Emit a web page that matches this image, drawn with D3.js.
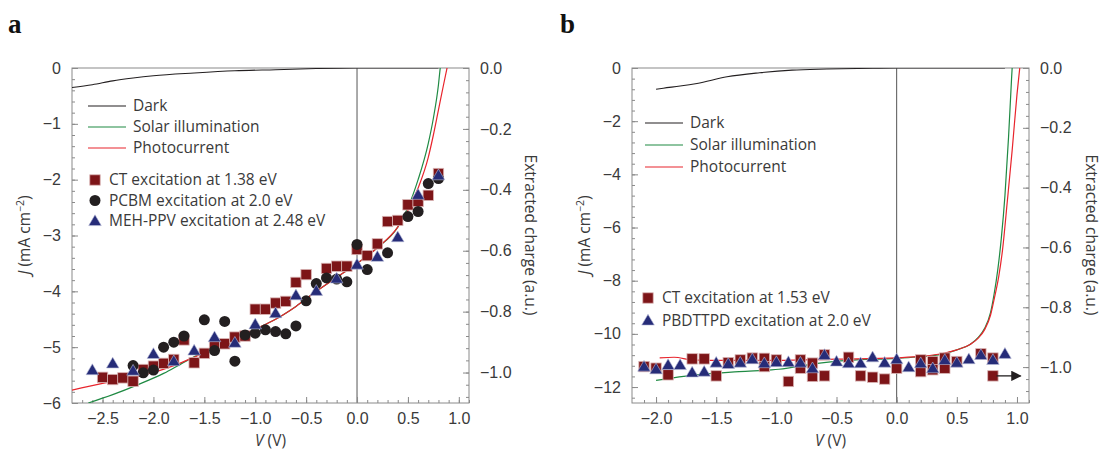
<!DOCTYPE html>
<html>
<head>
<meta charset="utf-8">
<script src="https://cdn.jsdelivr.net/npm/d3@7"></script>
<style>
  body { margin: 0; background: #fff; }
  svg { display: block; font-family: "Open Sans", "Noto Sans", sans-serif; }
  .tick text { fill: #3a3a3a; font-size: 16px; }
  .lbl { fill: #3a3a3a; font-size: 15.5px; }
</style>
</head>
<body>
<svg id="chart" width="1102" height="450"></svg>
<script>
// ---- panel a data ----
let a_dark = [[-2.8,-0.35],[-2.6,-0.3],[-2.4,-0.23],[-2.2,-0.18],[-2.0,-0.14],[-1.6,-0.09],[-1.2,-0.05],[-0.8,-0.03],[-0.4,-0.01],[0,0],[0.8,0]];
let a_solar = [[-2.64,-6.0],[-2.4,-5.85],[-2.15,-5.67],[-1.9,-5.47],[-1.72,-5.29],[-1.5,-5.08],[-1.2,-4.85],[-1.0,-4.68],[-0.8,-4.5],[-0.6,-4.27],[-0.4,-4.0],[-0.2,-3.75],[0,-3.5],[0.2,-3.22],[0.4,-2.85],[0.5,-2.5],[0.6,-2.0],[0.7,-1.35],[0.75,-0.9],[0.8,-0.3],[0.82,0.05]];
let a_photo = [[-2.8,-5.77],[-2.5,-5.65],[-2.2,-5.55],[-2.0,-5.45],[-1.8,-5.33],[-1.6,-5.18],[-1.4,-5.02],[-1.2,-4.85],[-1.0,-4.68],[-0.8,-4.5],[-0.6,-4.27],[-0.4,-4.0],[-0.2,-3.75],[0,-3.5],[0.2,-3.22],[0.4,-2.85],[0.5,-2.55],[0.6,-2.15],[0.7,-1.6],[0.75,-1.2],[0.8,-0.75],[0.85,-0.3],[0.89,0.05]];
let a_ct = [[-2.5,-5.54],[-2.4,-5.58],[-2.3,-5.55],[-2.2,-5.61],[-2.1,-5.4],[-2.0,-5.34],[-1.9,-5.29],[-1.8,-5.22],[-1.7,-4.87],[-1.6,-5.28],[-1.5,-5.11],[-1.4,-4.98],[-1.3,-4.94],[-1.2,-4.82],[-1.1,-4.8],[-1.0,-4.32],[-0.9,-4.32],[-0.8,-4.21],[-0.7,-4.18],[-0.6,-3.84],[-0.5,-3.7],[-0.3,-3.59],[-0.2,-3.55],[-0.1,-3.55],[0.0,-3.25],[0.1,-3.36],[0.2,-3.15],[0.3,-2.75],[0.4,-2.73],[0.5,-2.45],[0.6,-2.39],[0.7,-2.28],[0.8,-1.89]];
let a_pcbm = [[-2.2,-5.33],[-2.1,-5.46],[-2.0,-5.41],[-1.9,-5.0],[-1.8,-4.91],[-1.7,-4.8],[-1.5,-4.51],[-1.4,-5.06],[-1.3,-4.54],[-1.2,-5.25],[-1.1,-4.78],[-1.0,-4.75],[-0.9,-4.69],[-0.8,-4.72],[-0.7,-4.76],[-0.6,-4.62],[-0.5,-4.17],[-0.4,-3.86],[-0.3,-3.76],[-0.2,-3.78],[-0.1,-3.83],[0.0,-3.16],[0.1,-3.61],[0.3,-3.31],[0.5,-2.66],[0.6,-2.57],[0.7,-2.07],[0.8,-1.98]];
let a_meh = [[-2.6,-5.41],[-2.4,-5.29],[-2.2,-5.42],[-2.0,-5.12],[-1.8,-5.25],[-1.6,-5.06],[-1.4,-4.82],[-1.2,-4.92],[-1.0,-4.59],[-0.8,-4.39],[-0.6,-4.07],[-0.4,-3.99],[-0.2,-3.77],[0.0,-3.52],[0.2,-3.38],[0.4,-3.03],[0.6,-2.27],[0.8,-1.92]];

// ---- panel b data ----
let b_dark = [[-2.0,-0.8],[-1.94,-0.76],[-1.8,-0.68],[-1.66,-0.58],[-1.41,-0.33],[-1.14,-0.18],[-0.87,-0.08],[-0.58,-0.04],[-0.2,-0.01],[0,0],[0.9,0]];
let b_solar = [[-2.0,-11.75],[-1.67,-11.54],[-1.31,-11.42],[-0.98,-11.33],[-0.64,-11.1],[-0.4,-11.0],[0,-10.92],[0.2,-10.86],[0.4,-10.74],[0.5,-10.6],[0.61,-10.4],[0.68,-10.12],[0.73,-9.8],[0.78,-9.2],[0.81,-8.5],[0.84,-7.6],[0.87,-6.4],[0.9,-4.8],[0.93,-2.6],[0.955,-0.4],[0.965,0.4]];
let b_photo = [[-1.97,-10.9],[-1.85,-10.88],[-1.7,-10.98],[-1.5,-11.0],[-1.0,-11.0],[-0.5,-10.95],[0,-10.9],[0.2,-10.85],[0.4,-10.72],[0.5,-10.6],[0.61,-10.4],[0.68,-10.15],[0.73,-9.85],[0.78,-9.3],[0.81,-8.7],[0.85,-7.8],[0.88,-6.84],[0.92,-5.0],[0.96,-3.1],[1.0,-1.0],[1.03,0.3]];
let b_ct = [[-2.1,-11.23],[-2.0,-11.29],[-1.9,-11.54],[-1.7,-10.94],[-1.6,-10.94],[-1.5,-11.58],[-1.4,-11.08],[-1.3,-10.98],[-1.2,-10.91],[-1.1,-10.92],[-1.1,-11.23],[-1.0,-10.98],[-0.9,-11.79],[-0.8,-10.98],[-0.8,-11.29],[-0.7,-11.1],[-0.7,-11.6],[-0.6,-10.79],[-0.6,-11.58],[-0.4,-10.88],[-0.3,-11.58],[-0.2,-11.63],[-0.1,-11.7],[0.0,-11.29],[0.2,-10.98],[0.2,-11.42],[0.3,-11.04],[0.3,-11.35],[0.4,-10.91],[0.4,-11.29],[0.5,-11.04],[0.7,-10.75],[0.8,-10.91],[0.8,-11.58]];
let b_pbd = [[-2.1,-11.23],[-2.0,-11.33],[-1.9,-11.17],[-1.8,-11.17],[-1.7,-11.45],[-1.6,-11.42],[-1.5,-11.08],[-1.4,-11.13],[-1.3,-11.08],[-1.2,-10.95],[-1.1,-11.1],[-1.0,-11.06],[-0.9,-11.06],[-0.8,-11.08],[-0.7,-11.29],[-0.6,-10.79],[-0.5,-11.04],[-0.4,-11.1],[-0.3,-11.1],[-0.2,-10.88],[-0.1,-11.08],[0.0,-10.95],[0.1,-11.25],[0.2,-11.1],[0.3,-11.29],[0.4,-10.98],[0.5,-11.08],[0.6,-10.95],[0.7,-10.79],[0.8,-10.98],[0.9,-10.75]];
let b_arrow = [[0.83,-11.58],[1.03,-11.58]];

// legend labels
let lineLabels = ['Dark', 'Solar illumination', 'Photocurrent'];
let a_markerLabels = ['CT excitation at 1.38 eV', 'PCBM excitation at 2.0 eV', 'MEH-PPV excitation at 2.48 eV'];
let b_markerLabels = ['CT excitation at 1.53 eV', 'PBDTTPD excitation at 2.0 eV'];

let C_DARK = '#231f20', C_GREEN = '#1f8a43', C_RED = '#e8242c';
let C_SQ = '#7d1518', C_CIRC = '#231f20', C_TRI = '#262c78';

let svg = d3.select('#chart');

function range(a, b, s) {
    let out = [];
    for (let v = a; v <= b + s/1000; v += s) out.push(Math.round(v*1000)/1000);
    return out;
}

function marker(g, type, x, y) {
    if (type == 'sq') {
        g.append('rect').attr('x', x-5.2).attr('y', y-5.2).attr('width', 10.4).attr('height', 10.4)
            .attr('fill', C_SQ).attr('stroke', '#d9b4b4').attr('stroke-width', 0.8);
    } else if (type == 'ci') {
        g.append('circle').attr('cx', x).attr('cy', y).attr('r', 5.5).attr('fill', C_CIRC);
    } else {
        g.append('path').attr('d', `M${x},${y-6.2}L${x+6.3},${y+4.6}L${x-6.3},${y+4.6}Z`)
            .attr('fill', C_TRI).attr('stroke', '#b8bcd8').attr('stroke-width', 0.6);
    }
}

function drawPanel(p) {
    let x = d3.scaleLinear().domain(p.xDom).range([p.left, p.right]);
    let y = d3.scaleLinear().domain(p.yDom).range([403, 68]);
    let y2 = d3.scaleLinear().domain(p.y2Dom).range([403, 68]);
    let g = svg.append('g');

    let clipId = 'clip' + p.id;
    svg.append('clipPath').attr('id', clipId).append('rect')
        .attr('x', p.left).attr('y', 68).attr('width', p.right - p.left).attr('height', 335);

    // zero line
    g.append('line').attr('x1', x(0)).attr('x2', x(0)).attr('y1', 68).attr('y2', 403)
        .attr('stroke', '#555').attr('stroke-width', 1);

    // axes (ticks inward)
    let axes = [
        [d3.axisBottom(x).tickValues(p.xMajor).tickFormat(d3.format('.1f')).tickSizeInner(-6).tickSizeOuter(0).tickPadding(10), `translate(0,403)`],
        [d3.axisBottom(x).tickValues(p.xMinor).tickFormat('').tickSizeInner(-3).tickSizeOuter(0), `translate(0,403)`],
        [d3.axisLeft(y).tickValues(p.yMajor).tickFormat(d3.format('d')).tickSizeInner(-6).tickSizeOuter(0).tickPadding(11), `translate(${p.left},0)`],
        [d3.axisLeft(y).tickValues(p.yMinor).tickFormat('').tickSizeInner(-3).tickSizeOuter(0), `translate(${p.left},0)`],
        [d3.axisRight(y2).tickValues(p.y2Major).tickFormat(d3.format('.1f')).tickSizeInner(-6).tickSizeOuter(0).tickPadding(11), `translate(${p.right},0)`],
        [d3.axisRight(y2).tickValues(p.y2Minor).tickFormat('').tickSizeInner(-3).tickSizeOuter(0), `translate(${p.right},0)`]
    ];
    for (let [ax, tr] of axes) {
        let a = g.append('g').attr('transform', tr).call(ax);
        a.select('.domain').remove();
        a.selectAll('.tick line').attr('stroke', '#8a8a8a');
        a.selectAll('.tick text').attr('font-size', null).attr('font-family', null);
    }
    g.append('rect').attr('x', p.left).attr('y', 68).attr('width', p.right - p.left).attr('height', 335)
        .attr('fill', 'none').attr('stroke', '#8a8a8a').attr('stroke-width', 1);

    // curves
    let line = d3.line().x(d => x(d[0])).y(d => y(d[1])).curve(d3.curveMonotoneX);
    let cg = g.append('g').attr('clip-path', `url(#${clipId})`);
    cg.append('path').datum(p.dark).attr('d', line).attr('fill', 'none').attr('stroke', C_DARK).attr('stroke-width', 1.1);
    cg.append('path').datum(p.solar).attr('d', line).attr('fill', 'none').attr('stroke', C_GREEN).attr('stroke-width', 1.2);
    cg.append('path').datum(p.photo).attr('d', line).attr('fill', 'none').attr('stroke', C_RED).attr('stroke-width', 1.2);

    // markers
    for (let s of p.series) {
        let mg = g.append('g');
        s.data.forEach(d => marker(mg, s.type, x(d[0]), y(d[1])));
    }

    if (p.arrow) {
        svg.append('defs').append('marker').attr('id', 'arr').attr('viewBox', '0 0 10 10')
            .attr('refX', 9).attr('refY', 5).attr('markerWidth', 8).attr('markerHeight', 8).attr('orient', 'auto')
            .append('path').attr('d', 'M0,0L10,5L0,10Z').attr('fill', '#231f20');
        g.append('line').attr('x1', x(p.arrow[0][0])).attr('y1', y(p.arrow[0][1]))
            .attr('x2', x(p.arrow[1][0])).attr('y2', y(p.arrow[1][1]))
            .attr('stroke', '#231f20').attr('stroke-width', 1.3).attr('marker-end', 'url(#arr)');
    }

    // line legend
    let lc = [C_DARK, C_GREEN, C_RED];
    lineLabels.forEach((t, i) => {
        let yy = p.legLineY + i * p.legLineStep;
        g.append('line').attr('x1', p.legLineX).attr('x2', p.legLineX + 38).attr('y1', yy).attr('y2', yy)
            .attr('stroke', lc[i]).attr('stroke-width', 1.2);
        g.append('text').attr('class', 'lbl').attr('x', p.legLineX + 45).attr('y', yy).attr('dy', '0.35em').text(t);
    });
    // marker legend
    p.series.forEach((s, i) => {
        let yy = p.legMarkY + i * p.legMarkStep;
        marker(g, s.type, p.legMarkX, yy);
        g.append('text').attr('class', 'lbl').attr('x', p.legMarkX + 14).attr('y', yy).attr('dy', '0.35em').text(s.label);
    });

    // axis titles
    let cx = (p.left + p.right) / 2;
    let vt = g.append('text').attr('class', 'lbl').attr('x', cx).attr('y', 446).attr('text-anchor', 'middle');
    vt.append('tspan').attr('font-style', 'italic').text('V');
    vt.append('tspan').text(' (V)');

    let jt = g.append('text').attr('class', 'lbl').attr('text-anchor', 'middle')
        .attr('transform', `translate(${p.jX},235) rotate(-90)`);
    jt.append('tspan').attr('font-style', 'italic').text('J');
    jt.append('tspan').text(' (mA cm');
    jt.append('tspan').attr('font-size', '10.5px').attr('dy', -6).text('−2');
    jt.append('tspan').attr('dy', 6).text(')');

    g.append('text').attr('class', 'lbl').attr('text-anchor', 'middle')
        .attr('transform', `translate(${p.eX},235) rotate(90)`).text('Extracted charge (a.u.)');

    svg.append('text').attr('x', p.letterX).attr('y', 33).attr('font-family', '"Liberation Serif", serif')
        .attr('font-weight', 'bold').attr('font-size', '27px').attr('fill', '#111').text(p.id);
}

drawPanel({
    id: 'a', left: 72, right: 469, xDom: [-2.8, 1.1], yDom: [-6, 0], y2Dom: [-1.1, 0],
    xMajor: range(-2.5, 1.0, 0.5), xMinor: range(-2.7, 1.1, 0.1),
    yMajor: range(-6, 0, 1), yMinor: range(-6, 0, 0.2),
    y2Major: range(-1.0, 0, 0.2), y2Minor: range(-1.08, 0, 0.04),
    dark: a_dark, solar: a_solar, photo: a_photo,
    series: [
        {type: 'sq', data: a_ct, label: a_markerLabels[0]},
        {type: 'ci', data: a_pcbm, label: a_markerLabels[1]},
        {type: 'tri', data: a_meh, label: a_markerLabels[2]}
    ],
    legLineX: 88, legLineY: 106, legLineStep: 21,
    legMarkX: 95, legMarkY: 180, legMarkStep: 20.5,
    jX: 30, eX: 525, letterX: 8
});

drawPanel({
    id: 'b', left: 632, right: 1029, xDom: [-2.2, 1.1], yDom: [-12.6, 0], y2Dom: [-1.12, 0],
    xMajor: range(-2.0, 1.0, 0.5), xMinor: range(-2.1, 1.1, 0.1),
    yMajor: range(-12, 0, 2), yMinor: range(-12.4, 0, 0.4),
    y2Major: range(-1.0, 0, 0.2), y2Minor: range(-1.08, 0, 0.04),
    dark: b_dark, solar: b_solar, photo: b_photo,
    series: [
        {type: 'sq', data: b_ct, label: b_markerLabels[0]},
        {type: 'tri', data: b_pbd, label: b_markerLabels[1]}
    ],
    arrow: b_arrow,
    legLineX: 645, legLineY: 123, legLineStep: 22,
    legMarkX: 648, legMarkY: 298, legMarkStep: 22.5,
    jX: 590, eX: 1086, letterX: 560
});
</script>
</body>
</html>
